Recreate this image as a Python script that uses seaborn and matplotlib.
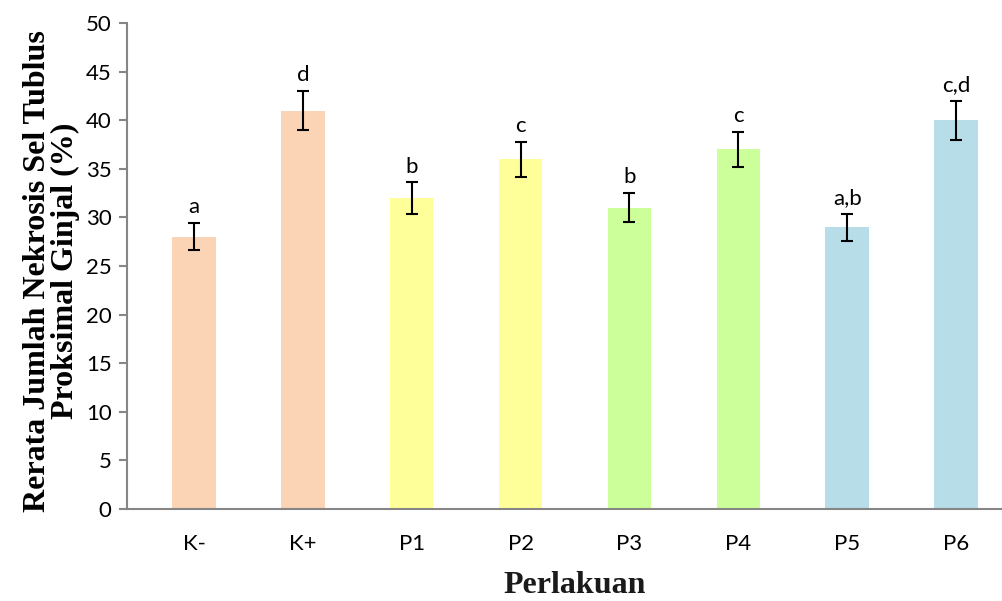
import matplotlib
matplotlib.use("Agg")
import matplotlib.pyplot as plt
import seaborn as sns
import pandas as pd
import numpy as np

# Mean tubular necrosis per treatment group, with error and significance letters
categories = ["K-", "K+", "P1", "P2", "P3", "P4", "P5", "P6"]
means = [28, 41, 32, 36, 31, 37, 29, 40]
errors = [1.4, 2.0, 1.6, 1.8, 1.5, 1.8, 1.4, 2.0]
letters = ["a", "d", "b", "c", "b", "c", "a,b", "c,d"]
bar_colors = ["#FAD4B5", "#FAD4B5", "#FFFF99", "#FFFF99",
              "#CCFF99", "#CCFF99", "#B7DDE8", "#B7DDE8"]
y_ticks = list(range(0, 51, 5))

df = pd.DataFrame({"Perlakuan": categories, "Nilai": means})

sns.set_theme(style="white")
plt.rcParams["font.family"] = ["Lato", "DejaVu Sans"]

fig = plt.figure(figsize=(10.03, 6.01), dpi=100)
# plot area runs slightly past the right edge of the canvas
ax = fig.add_axes([0.1266, 0.153, 0.8934, 0.8087])

sns.barplot(data=df, x="Perlakuan", y="Nilai", hue="Perlakuan",
            palette=bar_colors, order=categories, hue_order=categories,
            width=0.4, legend=False, errorbar=None, ax=ax,
            saturation=1, linewidth=0)

xpos = np.arange(len(categories))
ax.errorbar(xpos, means, yerr=errors, fmt="none", ecolor="black",
            elinewidth=1.5, capsize=4.3, capthick=1.5)

for x, m, e, lab in zip(xpos, means, errors, letters):
    ax.text(x, m + e + 0.6, lab, ha="center", va="bottom",
            fontsize=16, color="black")

ax.set_xlim(-0.615, len(categories) - 1 + 0.615)
ax.set_ylim(0, 50)
ax.set_yticks(y_ticks)
ax.set_yticklabels([str(t) for t in y_ticks])

for side in ["top", "right"]:
    ax.spines[side].set_visible(False)
for side in ["left", "bottom"]:
    ax.spines[side].set_color("#868686")
    ax.spines[side].set_linewidth(1.5)

ax.tick_params(axis="y", which="major", direction="out", length=6,
               width=1.5, color="#868686", labelsize=16, pad=5,
               left=True, labelcolor="black")
ax.tick_params(axis="x", which="major", length=0, labelsize=16, pad=18,
               labelcolor="black")

serif = ["Liberation Serif", "DejaVu Serif"]
ax.set_xlabel("Perlakuan", fontsize=23, fontweight="bold", family=serif,
              color="#1a1a1a", labelpad=12)
ax.set_ylabel("Rerata Jumlah Nekrosis Sel Tublus\nProksimal Ginjal (%)",
              fontsize=23, fontweight="bold", family=serif,
              color="black", linespacing=0.95)
ax.yaxis.set_label_coords(-0.052, 0.49)

fig.savefig("out.png", dpi=100)
